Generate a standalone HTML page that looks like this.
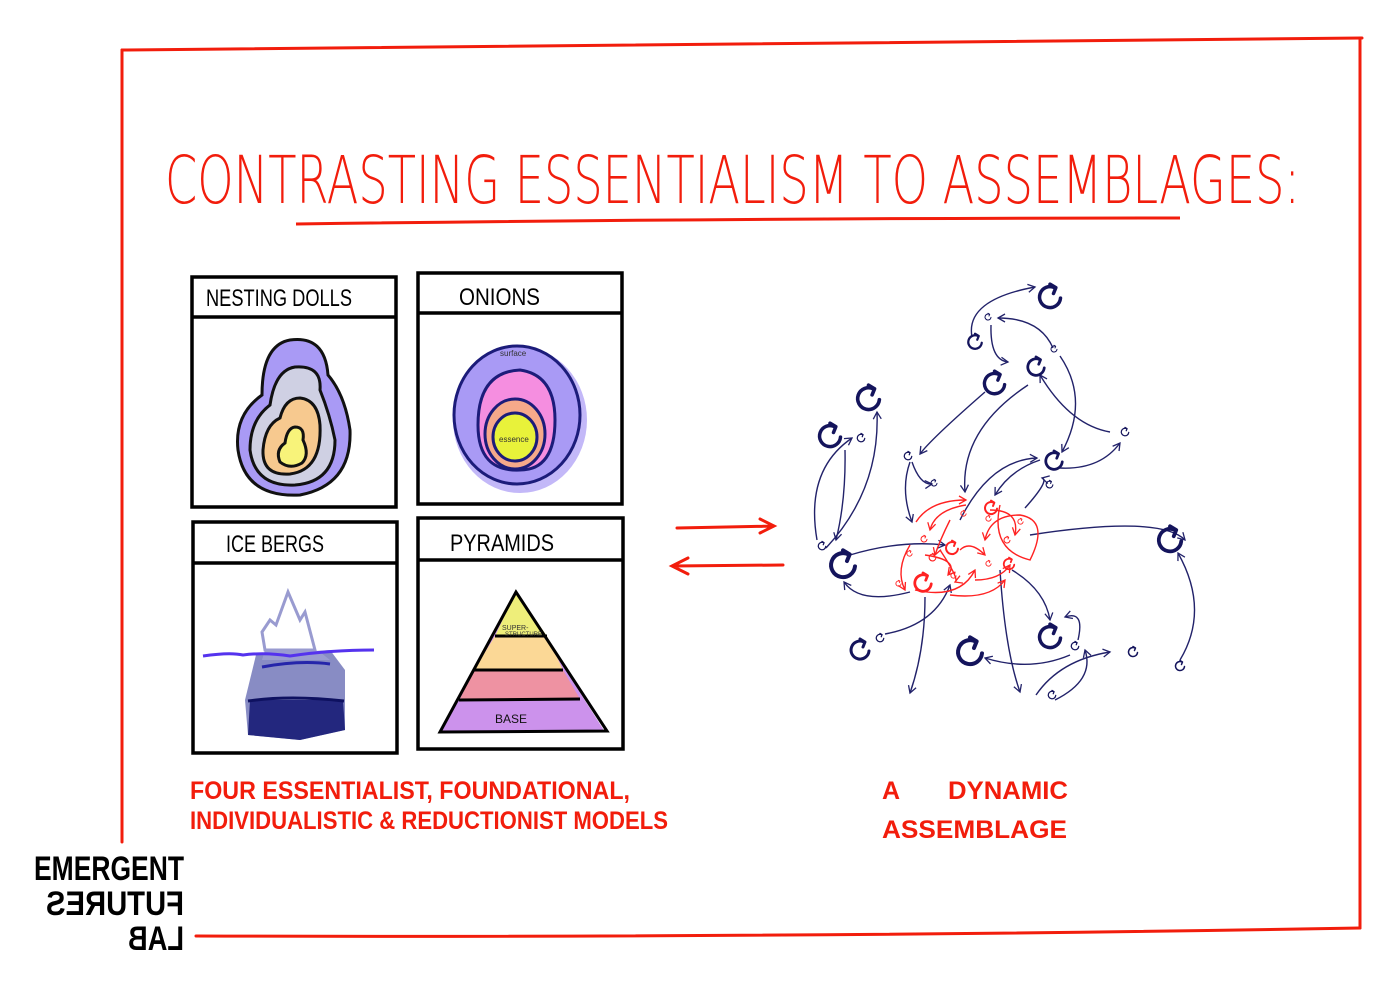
<!DOCTYPE html>
<html><head><meta charset="utf-8"><style>
html,body{margin:0;padding:0;background:#fff;width:1400px;height:987px;overflow:hidden}
svg{display:block}
text{font-family:"Liberation Sans",sans-serif}
</style></head><body>
<svg width="1400" height="987" viewBox="0 0 1400 987" xmlns="http://www.w3.org/2000/svg">
<defs>
<symbol id="g" viewBox="-12 -12 24 24" overflow="visible">
<path d="M9,1 A9,9 0 1 1 4,-8" fill="none" stroke="currentColor" stroke-width="3" stroke-linecap="round"/>
<path d="M0,-11 L5,-8 L3,-3" fill="none" stroke="currentColor" stroke-width="3" stroke-linecap="round" stroke-linejoin="round"/>
</symbol>
<marker id="ah" markerWidth="10" markerHeight="10" refX="8" refY="5" orient="auto" markerUnits="userSpaceOnUse"><path d="M1,1 L8,5 L1,9" fill="none" stroke="#22226a" stroke-width="1.3"/></marker>
<marker id="ar" markerWidth="10" markerHeight="10" refX="8" refY="5" orient="auto" markerUnits="userSpaceOnUse"><path d="M1,1 L8,5 L1,9" fill="none" stroke="#f22" stroke-width="1.3"/></marker>
</defs>

<g fill="none" stroke="#f21d0c" stroke-width="3" stroke-linecap="round">
<path d="M122,50 Q700,44 1362,38"/>
<path d="M122,50 Q121,450 122,842"/>
<path d="M1360,38 Q1361,500 1360,928"/>
<path d="M196,936 Q800,938 1360,928"/>
</g>

<text x="165" y="203" font-size="66" fill="#f21d0c" textLength="1135" lengthAdjust="spacingAndGlyphs" style="font-family:'DejaVu Sans','Liberation Sans',sans-serif;font-weight:200">CONTRASTING ESSENTIALISM TO ASSEMBLAGES:</text>
<path d="M296,224 Q740,218 1180,218" stroke="#f21d0c" stroke-width="3" fill="none"/>

<g fill="none" stroke="#000" stroke-width="3.5">
<rect x="192" y="277" width="204" height="230"/><line x1="192" y1="317" x2="396" y2="317"/>
<rect x="418" y="273" width="204" height="231"/><line x1="418" y1="313" x2="622" y2="313"/>
<rect x="193" y="522" width="204" height="231"/><line x1="193" y1="563" x2="397" y2="563"/>
<rect x="418" y="518" width="205" height="231"/><line x1="418" y1="560" x2="623" y2="560"/>
</g>
<g font-size="24" fill="#000">
<text x="206" y="306" textLength="146" lengthAdjust="spacingAndGlyphs">NESTING DOLLS</text>
<text x="459" y="305" textLength="81" lengthAdjust="spacingAndGlyphs">ONIONS</text>
<text x="226" y="552" textLength="98" lengthAdjust="spacingAndGlyphs">ICE BERGS</text>
<text x="450" y="551" textLength="104" lengthAdjust="spacingAndGlyphs">PYRAMIDS</text>
</g>

<g stroke="#111" stroke-width="3">
<path d="M290,340 Q325,335 328,375 Q345,395 350,430 Q352,485 300,495 Q245,498 238,450 Q234,415 262,395 Q262,345 290,340Z" fill="#a99af5"/>
<path d="M295,367 Q322,365 320,390 Q330,415 335,440 Q335,482 295,485 Q255,487 250,450 Q250,420 270,405 Q275,370 295,367Z" fill="#cfd0e3"/>
<path d="M300,398 Q318,400 320,425 Q322,470 290,474 Q262,476 263,450 Q265,425 280,418 Q285,398 300,398Z" fill="#f7c98f"/>
<path d="M295,427 Q305,427 303,440 Q310,455 302,463 Q290,470 280,462 Q275,450 285,443 Q287,428 295,427Z" fill="#f8f37a"/>
</g>
<ellipse cx="520" cy="420" rx="67" ry="73" fill="#a99af5" opacity="0.7"/>
<g stroke="#1c1c7a" stroke-width="3">
<ellipse cx="517" cy="415" rx="63" ry="69" fill="#a99af5"/>
<path d="M520,370 Q555,375 555,420 Q555,470 520,470 Q478,472 478,425 Q478,372 520,370Z" fill="#f58ee0"/>
<ellipse cx="515" cy="434" rx="30" ry="35" fill="#f6a98a"/>
<ellipse cx="515" cy="437" rx="22" ry="24" fill="#e8f23a"/>
</g>
<text x="500" y="356" font-size="8" fill="#333">surface</text>
<text x="499" y="442" font-size="8" fill="#333">essence</text>
<path d="M256,655 L245,700 L248,735 L300,740 L345,730 L345,670 L330,650 Z" fill="#6a6fb5" opacity="0.8"/>
<path d="M250,700 L248,735 L300,740 L345,730 L343,700 Z" fill="#23277e"/>
<path d="M262,632 L270,620 L276,625 L288,592 L300,620 L305,612 L315,650 L265,650 Z" fill="#fff" stroke="#999bd0" stroke-width="3"/>
<path d="M265,650 L320,652 L330,660 L262,660Z" fill="#9a9cd0"/>
<path d="M203,656 Q230,652 243,655 Q265,652 290,656 Q330,650 374,650" stroke="#5533ee" stroke-width="3" fill="none"/>
<path d="M262,667 Q300,660 330,664" stroke="#2525aa" stroke-width="3" fill="none"/>
<path d="M248,701 Q290,695 344,701" stroke="#0e1160" stroke-width="3" fill="none"/>
<path d="M516,592 L440,732 L605,732 Z" fill="#cc92ec"/>
<path d="M516,592 L495,636 L547,636Z" fill="#eeee7a"/>
<path d="M495,636 L547,636 L563,670 L474,670Z" fill="#fbd896"/>
<path d="M474,670 L563,670 L580,699 L459,701Z" fill="#ee92a2"/>
<g stroke="#000" stroke-width="3" fill="none"><path d="M516,592 L440,732 L607,731 Z"/><line x1="495" y1="636" x2="547" y2="636"/><line x1="474" y1="670" x2="563" y2="670"/><line x1="459" y1="700" x2="580" y2="699"/></g>
<text x="502" y="630" font-size="7" fill="#333">SUPER-</text><text x="505" y="636" font-size="6" fill="#333">STRUCTURE</text>
<text x="495" y="723" font-size="12" fill="#111">BASE</text>

<g stroke="#f21d0c" stroke-width="3" fill="none" stroke-linecap="round">
<path d="M677,528 L774,526 M760,519 L774,526 L760,533"/>
<path d="M783,565 L672,566 M688,558 L672,566 L688,574"/>
</g>

<g stroke="#22226a" stroke-width="1.4" fill="none" marker-end="url(#ah)">
<path d="M972,337 Q965,300 1035,287"/>
<path d="M991,325 Q990,360 1008,362"/>
<path d="M1053,348 Q1040,318 998,318"/>
<path d="M1060,356 Q1090,400 1062,452"/>
<path d="M985,392 Q930,440 920,454"/>
<path d="M1028,385 Q960,430 965,492"/>
<path d="M1110,432 Q1070,425 1040,375"/>
<path d="M1040,460 Q1010,470 995,495"/>
<path d="M1060,468 Q1100,470 1120,443"/>
<path d="M910,462 Q900,490 912,522"/>
<path d="M912,462 Q920,485 932,484"/>
<path d="M1025,508 Q1050,480 1042,478"/>
<path d="M960,520 Q990,460 1037,458"/>
<path d="M845,450 Q846,500 836,540"/>
<path d="M817,540 Q805,470 852,438"/>
<path d="M826,548 Q880,490 877,412"/>
<path d="M850,555 Q900,540 945,545"/>
<path d="M910,592 Q860,605 844,582"/>
<path d="M1030,535 Q1160,515 1185,540"/>
<path d="M1180,660 Q1210,610 1178,553"/>
<path d="M1012,570 Q1045,590 1050,620"/>
<path d="M925,597 Q925,650 910,693"/>
<path d="M1000,570 Q1005,650 1020,692"/>
<path d="M885,634 Q935,625 950,585"/>
<path d="M1070,655 Q1030,672 985,658"/>
<path d="M1036,695 Q1060,660 1110,652"/>
<path d="M1055,700 Q1095,680 1085,650"/>
<path d="M1078,640 Q1085,610 1065,617"/>
</g>
<g stroke="#f22" stroke-width="1.4" fill="none" marker-end="url(#ar)">
<path d="M916,522 Q930,500 966,500"/>
<path d="M966,505 Q935,510 930,530"/>
<path d="M910,545 Q895,570 905,590"/>
<path d="M915,590 Q960,600 975,570"/>
<path d="M975,580 Q1000,580 1010,565"/>
<path d="M990,510 Q1020,510 1015,535"/>
<path d="M940,550 Q960,580 955,582"/>
<path d="M1000,505 Q990,550 1030,560 Q1050,520 1020,515 Q990,515 985,540"/>
<path d="M950,520 Q940,540 935,555"/>
<path d="M925,555 Q960,560 948,575"/>
<path d="M960,550 Q970,540 985,555"/>
<path d="M950,595 Q990,600 1005,580"/>
</g>
<g color="#f22">
<use href="#g" x="983" y="500" width="16" height="16"/>
<use href="#g" x="944" y="540" width="16" height="16"/>
<use href="#g" x="912" y="572" width="22" height="22"/>
<use href="#g" x="1002" y="557" width="14" height="14"/>
<use href="#g" x="920" y="535" width="8" height="8"/>
<use href="#g" x="960" y="510" width="7" height="7"/>
<use href="#g" x="985" y="515" width="7" height="7"/>
<use href="#g" x="1017" y="518" width="7" height="7"/>
<use href="#g" x="1003" y="536" width="8" height="8"/>
<use href="#g" x="906" y="550" width="7" height="7"/>
<use href="#g" x="895" y="580" width="7" height="7"/>
<use href="#g" x="950" y="572" width="7" height="7"/>
<use href="#g" x="985" y="560" width="7" height="7"/>
<use href="#g" x="928" y="553" width="9" height="9"/>
</g>
<g color="#14145c">
<use href="#g" x="1036" y="283" width="28" height="28"/>
<use href="#g" x="966" y="333" width="18" height="18"/>
<use href="#g" x="1025" y="356" width="22" height="22"/>
<use href="#g" x="981" y="370" width="27" height="27"/>
<use href="#g" x="854" y="384" width="29" height="29"/>
<use href="#g" x="816" y="422" width="28" height="28"/>
<use href="#g" x="1043" y="450" width="22" height="22"/>
<use href="#g" x="827" y="549" width="32" height="32"/>
<use href="#g" x="1155" y="525" width="30" height="30"/>
<use href="#g" x="848" y="638" width="24" height="24"/>
<use href="#g" x="954" y="636" width="32" height="32"/>
<use href="#g" x="1036" y="623" width="28" height="28"/>
<use href="#g" x="984" y="313" width="8" height="8"/>
<use href="#g" x="1050" y="345" width="8" height="8"/>
<use href="#g" x="1120" y="427" width="10" height="10"/>
<use href="#g" x="903" y="451" width="10" height="10"/>
<use href="#g" x="930" y="479" width="8" height="8"/>
<use href="#g" x="1045" y="480" width="9" height="9"/>
<use href="#g" x="856" y="433" width="10" height="10"/>
<use href="#g" x="817" y="541" width="10" height="10"/>
<use href="#g" x="875" y="633" width="10" height="10"/>
<use href="#g" x="1070" y="641" width="10" height="10"/>
<use href="#g" x="1127" y="646" width="12" height="12"/>
<use href="#g" x="1174" y="660" width="12" height="12"/>
<use href="#g" x="1047" y="690" width="10" height="10"/>
</g>

<g fill="#f21d0c" font-size="25" font-weight="bold">
<text x="190" y="799" textLength="440" lengthAdjust="spacingAndGlyphs">FOUR  ESSENTIALIST, FOUNDATIONAL,</text>
<text x="190" y="829" textLength="478" lengthAdjust="spacingAndGlyphs">INDIVIDUALISTIC &amp; REDUCTIONIST MODELS</text>
<text x="882" y="799">A</text>
<text x="948" y="799" textLength="120" lengthAdjust="spacingAndGlyphs">DYNAMIC</text>
<text x="882" y="838" textLength="185" lengthAdjust="spacingAndGlyphs">ASSEMBLAGE</text>
</g>

<g font-size="34" font-weight="bold" fill="#000">
<text x="34" y="880" textLength="150" lengthAdjust="spacingAndGlyphs">EMERGENT</text>
<text transform="translate(184,0) scale(-1,1)" x="0" y="915" textLength="138" lengthAdjust="spacingAndGlyphs">FUTURES</text>
<text transform="translate(184,0) scale(-1,1)" x="0" y="950" textLength="56" lengthAdjust="spacingAndGlyphs">LAB</text>
</g>
</svg>
</body></html>
